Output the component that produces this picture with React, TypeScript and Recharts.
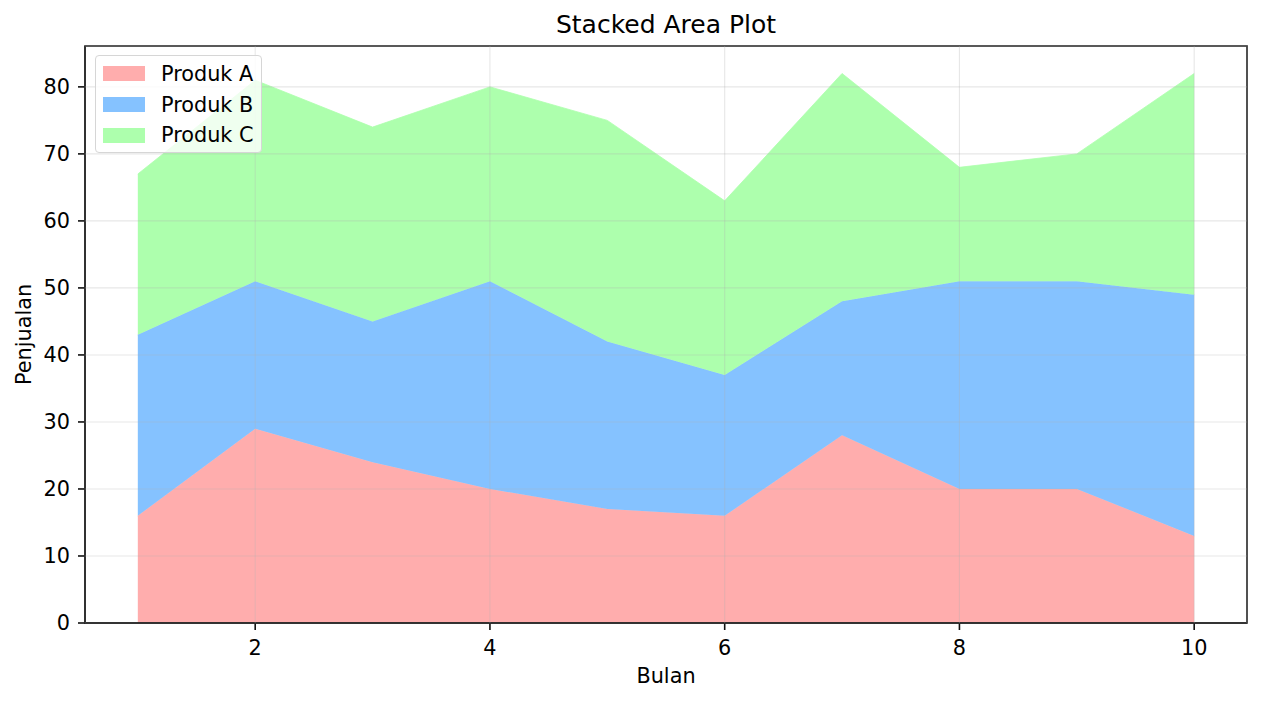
import React from "react"
import { AreaChart, Area, XAxis, YAxis, CartesianGrid, Legend, ReferenceArea } from "recharts"

// Data
const bulan = [1, 2, 3, 4, 5, 6, 7, 8, 9, 10]
const produkA = [16, 29, 24, 20, 17, 16, 28, 20, 20, 13]
const produkB = [27, 22, 21, 31, 25, 21, 20, 31, 31, 36]
const produkC = [24, 30, 29, 29, 33, 26, 34, 17, 19, 33]

const xTicks = [2, 4, 6, 8, 10]
const yTicks = [0, 10, 20, 30, 40, 50, 60, 70, 80]

const seriesNames = ["Produk A", "Produk B", "Produk C"]
const seriesKeys = ["a", "b", "c"]
const seriesColors = ["#ffadad", "#85c2ff", "#adffad"]

const data = bulan.map((b, i) => ({
  bulan: b,
  a: produkA[i],
  b: produkB[i],
  c: produkC[i],
}))

const X_DOMAIN = [0.55, 10.45]
const Y_DOMAIN = [0, 86.1]

const FONT = "'DejaVu Sans', sans-serif"
const FS = 20.8
const AXIS = "#111"

const TitleLabel = ({ viewBox }: any) => {
  const cx = viewBox.x + viewBox.width / 2
  return (
    <text x={cx} y={33} textAnchor="middle" fontSize={25} fill="#000" fontFamily={FONT}>
      Stacked Area Plot
    </text>
  )
}

const XLabel = ({ viewBox }: any) => {
  const cx = viewBox.x + viewBox.width / 2
  return (
    <text x={cx} y={683} textAnchor="middle" fontSize={FS} fill="#000" fontFamily={FONT}>
      Bulan
    </text>
  )
}

const YLabel = ({ viewBox }: any) => {
  const cy = viewBox.y + viewBox.height / 2
  const x = 30.5
  return (
    <text
      x={x}
      y={cy}
      transform={`rotate(-90, ${x}, ${cy})`}
      textAnchor="middle"
      fontSize={FS}
      fill="#000"
      fontFamily={FONT}
    >
      Penjualan
    </text>
  )
}

// Legend kotak kiri atas seperti matplotlib
const LegendBox = () => (
  <div
    style={{
      width: 165,
      height: 96,
      border: "1px solid #d6d6d6",
      borderRadius: 4,
      background: "rgba(255,255,255,0.8)",
      fontFamily: FONT,
      fontSize: FS,
      color: "#000",
      position: "relative",
    }}
  >
    {seriesNames.map((name, i) => (
      <div
        key={name}
        style={{
          position: "absolute",
          left: 0,
          top: 17.7 + i * 30.8 - 15,
          height: 30,
          display: "flex",
          alignItems: "center",
        }}
      >
        <div
          style={{
            marginLeft: 7,
            width: 42,
            height: 14.5,
            background: seriesColors[i],
          }}
        />
        <span style={{ marginLeft: 16, lineHeight: "30px", whiteSpace: "nowrap" }}>{name}</span>
      </div>
    ))}
  </div>
)

export default function App() {
  return (
    <div style={{ position: "absolute", left: 0, top: 0, width: 1262, height: 701, background: "#fff" }}>
      <AreaChart
        width={1262}
        height={701}
        data={data}
        margin={{ top: 46, right: 15, bottom: 0, left: 0 }}
        style={{ fontFamily: FONT }}
      >
        <XAxis
          dataKey="bulan"
          type="number"
          domain={X_DOMAIN}
          ticks={xTicks}
          allowDataOverflow
          height={78}
          tickSize={7}
          tickMargin={10}
          tick={{ fontSize: FS, fill: "#000" }}
          axisLine={{ stroke: AXIS, strokeWidth: 1.6 }}
          tickLine={{ stroke: AXIS, strokeWidth: 1.6 }}
          label={{ content: <XLabel /> } as any}
        />
        <YAxis
          type="number"
          domain={Y_DOMAIN}
          ticks={yTicks}
          allowDataOverflow
          width={85}
          tickSize={7}
          tickMargin={8}
          tick={{ fontSize: FS, fill: "#000" }}
          axisLine={{ stroke: AXIS, strokeWidth: 1.6 }}
          tickLine={{ stroke: AXIS, strokeWidth: 1.6 }}
          label={{ content: <YLabel /> } as any}
        />
        {seriesKeys.map((k, i) => (
          <Area
            key={k}
            type="linear"
            dataKey={k}
            name={seriesNames[i]}
            stackId="1"
            fill={seriesColors[i]}
            fillOpacity={1}
            stroke={seriesColors[i]}
            strokeWidth={0.8}
            isAnimationActive={false}
            dot={false}
            activeDot={false}
          />
        ))}
        <CartesianGrid stroke="#b0b0b0" strokeOpacity={0.3} strokeWidth={1.1} {...({ zIndex: 500 } as any)} />
        {/* bingkai plot + judul */}
        <ReferenceArea
          x1={X_DOMAIN[0]}
          x2={X_DOMAIN[1]}
          y1={Y_DOMAIN[0]}
          y2={Y_DOMAIN[1]}
          fill="none"
          fillOpacity={0}
          stroke={AXIS}
          strokeWidth={1.6}
          strokeOpacity={1}
          ifOverflow="visible"
          label={{ content: <TitleLabel /> } as any}
        />
        <Legend
          layout="vertical"
          align="center"
          verticalAlign="middle"
          content={<LegendBox />}
          wrapperStyle={{ left: 95, top: 55, width: "auto", height: "auto" }}
        />
      </AreaChart>
    </div>
  )
}
